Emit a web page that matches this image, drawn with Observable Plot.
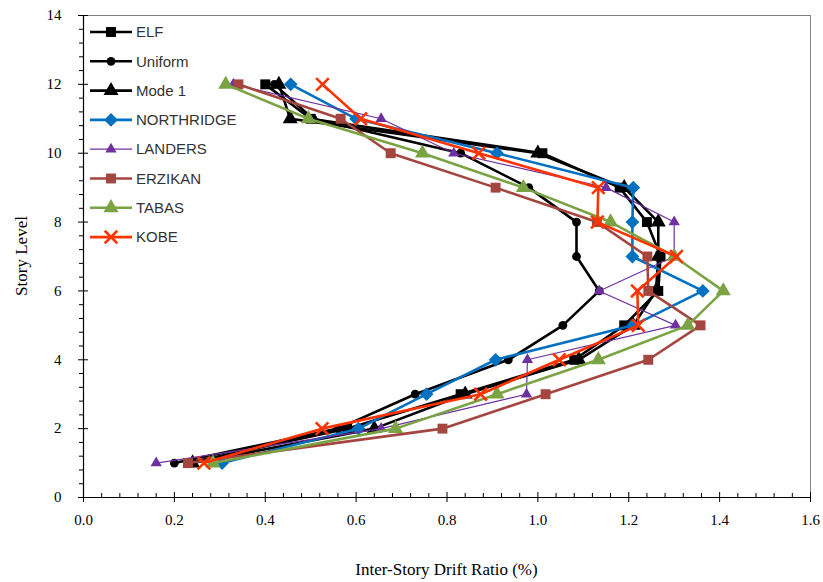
<!DOCTYPE html>
<html><head><meta charset="utf-8">
<script src="https://cdn.jsdelivr.net/npm/d3@7"></script>
<script src="https://cdn.jsdelivr.net/npm/@observablehq/plot@0.6"></script>
<style>body{margin:0;background:#fff} #chart{position:relative;width:823px;height:582px}</style>
</head><body><div id="chart"></div>
<script>
const stories = [1,2,3,4,5,6,7,8,9,10,11,12];
const ELF        = [0.23, 0.58, 0.83, 1.08, 1.19, 1.265, 1.27, 1.24, 1.18, 1.01, 0.50, 0.40];
const Uniform    = [0.20, 0.56, 0.73, 0.935, 1.055, 1.135, 1.085, 1.085, 0.98, 0.83, 0.505, 0.42];
const Mode1      = [0.24, 0.64, 0.84, 1.09, 1.21, 1.26, 1.265, 1.265, 1.19, 1.00, 0.455, 0.43];
const NORTHRIDGE = [0.305, 0.605, 0.755, 0.907, 1.21, 1.363, 1.208, 1.208, 1.21, 0.91, 0.60, 0.456];
const LANDERS    = [0.16, 0.655, 0.975, 0.977, 1.303, 1.135, 1.30, 1.30, 1.15, 0.815, 0.655, 0.33];
const ERZIKAN    = [0.23, 0.79, 1.017, 1.243, 1.358, 1.243, 1.241, 1.13, 0.907, 0.676, 0.566, 0.341];
const TABAS      = [0.285, 0.687, 0.91, 1.133, 1.33, 1.408, 1.30, 1.16, 0.968, 0.746, 0.495, 0.313];
const KOBE       = [0.265, 0.525, 0.874, 1.047, 1.221, 1.219, 1.305, 1.131, 1.133, 0.87, 0.61, 0.526];

const seriesNames   = ["ELF","Uniform","Mode 1","NORTHRIDGE","LANDERS","ERZIKAN","TABAS","KOBE"];
const seriesValues  = [ELF, Uniform, Mode1, NORTHRIDGE, LANDERS, ERZIKAN, TABAS, KOBE];
const seriesColors  = ["#000000","#000000","#000000","#0070C0","#7030A0","#A5453F","#7AA344","#FF3300"];
const seriesSymbols = ["square","circle","triangle","diamond2","triangle","square","triangle","times"];
const seriesWidths  = [2.6, 2.6, 2.6, 2.6, 1.2, 2.6, 2.6, 2.6];
const seriesR       = [5.6, 4.4, 5.6, 6.2, 4.2, 5.6, 5.6, 5.8];

const xTicks = [0,0.2,0.4,0.6,0.8,1,1.2,1.4,1.6];
const yTicks = [0,2,4,6,8,10,12,14];
const xLabel = "Inter-Story Drift Ratio (%)";
const yLabel = "Story Level";

const W=823, H=582, mL=83, mR=13, mT=15, mB=85;
const pw = W-mL-mR, ph = H-mT-mB;

const rows = [];
seriesNames.forEach((name,i)=> seriesValues[i].forEach((v,j)=> rows.push({series:name, x:v, y:stories[j]})));

const xMinor = d3.range(0, 81).map(i=>i*0.04).filter(v=>v<=1.6001 && Math.abs(v/0.2-Math.round(v/0.2))>1e-6);
const yMinor = d3.range(0, 36).map(i=>i*0.4).filter(v=>v<=14.0001 && Math.abs(v/2-Math.round(v/2))>1e-6);

const serif = "'Liberation Serif','Times New Roman',serif";

const marks = [
  Plot.frame({stroke:"#808080", strokeWidth:1}),
  Plot.tickX(xMinor, {x:d=>d, stroke:"#000", insetTop: ph-4}),
  Plot.tickX(xTicks, {x:d=>d, stroke:"#000", insetTop: ph-5, insetBottom:-5}),
  Plot.tickY(yMinor, {y:d=>d, stroke:"#000", insetLeft:-4, insetRight: pw}),
  Plot.tickY(yTicks, {y:d=>d, stroke:"#000", insetLeft:-5, insetRight: pw-5}),
  Plot.axisX({ticks:xTicks, tickSize:0, tickPadding:17, label:null, fontSize:15, fontFamily:serif}),
  Plot.axisY({ticks:yTicks, tickSize:0, tickPadding:22, label:null, fontSize:15, fontFamily:serif}),
  Plot.ruleX([0], {stroke:"#000", strokeWidth:1.2}),
  Plot.ruleY([0], {stroke:"#000", strokeWidth:1.2}),
];
seriesNames.forEach((name,i)=>{
  const d = rows.filter(r=>r.series===name);
  marks.push(Plot.line(d, {x:"x", y:"y", stroke:seriesColors[i], strokeWidth:seriesWidths[i]}));
  if (seriesSymbols[i]==="times") {
    marks.push(Plot.dot(d, {x:"x", y:"y", symbol:"times", r:seriesR[i], stroke:seriesColors[i], strokeWidth:2.6}));
  } else {
    marks.push(Plot.dot(d, {x:"x", y:"y", symbol:seriesSymbols[i], r:seriesR[i], fill:seriesColors[i], stroke:"none"}));
  }
});

const plot = Plot.plot({
  width:W, height:H, marginLeft:mL, marginRight:mR, marginTop:mT, marginBottom:mB,
  x:{domain:[0,1.6]}, y:{domain:[0,14]},
  style:{background:"#fff", fontFamily:serif, color:"#000"},
  marks
});
document.getElementById("chart").appendChild(plot);

const svg = d3.select(plot);
svg.append("text").attr("x", mL+pw/2).attr("y", 575).attr("text-anchor","middle")
  .attr("font-family", serif).attr("font-size", 17).attr("fill","#000").text(xLabel);
svg.append("text").attr("transform", `translate(27,${mT+ph/2}) rotate(-90)`).attr("text-anchor","middle")
  .attr("font-family", serif).attr("font-size", 17).attr("fill","#000").text(yLabel);

// legend
const lg = svg.append("g").attr("text-anchor","start");
const symMap = {square:d3.symbolSquare, circle:d3.symbolCircle, triangle:d3.symbolTriangle, diamond2:d3.symbolDiamond2, times:d3.symbolTimes};
seriesNames.forEach((name,i)=>{
  const y = 32 + i*29.3;
  lg.append("line").attr("x1",90).attr("x2",132).attr("y1",y).attr("y2",y)
    .attr("stroke",seriesColors[i]).attr("stroke-width",seriesWidths[i]);
  const p = lg.append("path").attr("transform",`translate(111,${y})`)
    .attr("d", d3.symbol(symMap[seriesSymbols[i]], Math.PI*seriesR[i]*seriesR[i])());
  if (seriesSymbols[i]==="times") p.attr("fill","none").attr("stroke",seriesColors[i]).attr("stroke-width",2.6);
  else p.attr("fill",seriesColors[i]);
  lg.append("text").attr("x",136).attr("y",y).attr("dy","0.35em").attr("text-anchor","start")
    .attr("font-family","'Liberation Sans',Arial,sans-serif").attr("font-size",15).attr("fill","#333").text(name);
});
</script></body></html>
